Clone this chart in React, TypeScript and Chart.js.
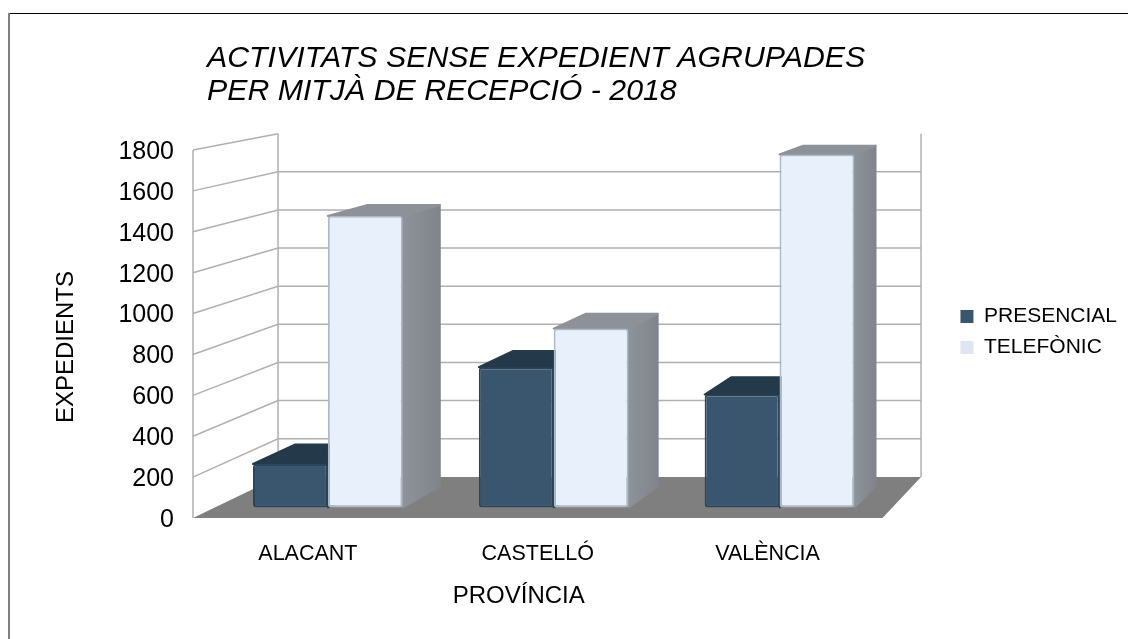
import React, { useEffect, useRef } from "react";
import { Chart, registerables } from "chart.js";

Chart.register(...registerables);

const categories = ["ALACANT", "CASTELLÓ", "VALÈNCIA"];
const presencial = [216, 698, 562];
const telefonic = [1451, 890, 1757];
const yTicks = { min: 0, max: 1800, step: 200 };

const FONT = "'Liberation Sans', Arial, sans-serif";
const VP = { x: 1455, y: -92 };
const S_BAR_FRONT = 0.9826;
const S_BAR_BACK = 0.948;
const S_WALL = 0.9326;

const proj = (x: number, y: number, s: number): [number, number] => [VP.x + s * (x - VP.x), VP.y + s * (y - VP.y)];

function poly(ctx: CanvasRenderingContext2D, pts: [number, number][]) {
  ctx.beginPath();
  pts.forEach((p, i) => (i ? ctx.lineTo(p[0], p[1]) : ctx.moveTo(p[0], p[1])));
  ctx.closePath();
}

const faces: Record<number, { top: string; side1: string; side2: string }> = {
  0: { top: "#24394a", side1: "#2b4357", side2: "#2b4357" },
  1: { top: "#8d9198", side1: "#8e9399", side2: "#80858c" },
};

const legendFill: Record<number, string> = { 0: "#3a566f", 1: "#dde6f1" };

const scene = {
  id: "scene",
  afterLayout(chart: any) {
    const t = chart.titleBlock;
    t.left = 207;
    t.right = 1100;
    const l = chart.legend;
    l.left += 68;
    l.right += 68;
    l.top += 12.5;
    l.bottom += 12.5;
  },
  beforeDraw(chart: any) {
    const { ctx, chartArea: a, scales } = chart;
    const y = scales.y;
    ctx.save();
    ctx.fillStyle = "#fff";
    ctx.fillRect(0, 0, chart.width, chart.height);
    ctx.strokeStyle = "#000";
    ctx.lineWidth = 1;
    ctx.beginPath();
    ctx.moveTo(8, 13.5);
    ctx.lineTo(chart.width, 13.5);
    ctx.stroke();
    ctx.strokeStyle = "#808080";
    ctx.lineWidth = 2;
    ctx.beginPath();
    ctx.moveTo(9, 13);
    ctx.lineTo(9, chart.height);
    ctx.stroke();

    // floor
    poly(ctx, [[a.left, a.bottom], [a.right, a.bottom], proj(a.right, a.bottom, S_WALL), proj(a.left, a.bottom, S_WALL)]);
    ctx.fillStyle = "#7f7f7f";
    ctx.fill();

    // walls and grid
    ctx.strokeStyle = "#b0b0b0";
    ctx.lineWidth = 1.5;
    const backL = (v: number) => proj(a.left, v, S_WALL);
    const backR = (v: number) => proj(a.right, v, S_WALL);
    y.ticks.forEach((tk: any) => {
      const py = y.getPixelForValue(tk.value);
      ctx.beginPath();
      if (tk.value > 0) {
        ctx.moveTo(a.left, py);
        ctx.lineTo(...backL(py));
      }
      if (tk.value > 0 && tk.value < yTicks.max) {
        ctx.lineTo(...backR(py));
      }
      ctx.stroke();
    });
    ctx.beginPath();
    ctx.moveTo(a.left, a.top);
    ctx.lineTo(a.left, a.bottom);
    ctx.moveTo(...backL(a.top));
    ctx.lineTo(...backL(a.bottom));
    ctx.moveTo(...backR(a.top));
    ctx.lineTo(...backR(a.bottom));
    ctx.stroke();
    ctx.restore();

    // move the axis titles to where the reference has them (tick labels keep their scale mapping)
    scales.y.bottom = a.bottom + 26;
    scales.x.left = a.left - 38;
  },
  beforeDatasetsDraw(chart: any) {
    const { ctx } = chart;
    ctx.save();
    ctx.filter = "blur(0.5px)";
    chart.getSortedVisibleDatasetMetas().slice().sort((p: any, q: any) => p.index - q.index).forEach((meta: any) => {
      const f = faces[meta.index];
      meta.data.forEach((bar: any) => {
        const { x, y, base, width } = bar.getProps(["x", "y", "base", "width"], true);
        const l = x - width / 2;
        const r = x + width / 2;
        const side: [number, number][] = [proj(r, y, S_BAR_FRONT), proj(r, y, S_BAR_BACK), proj(r, base, S_BAR_BACK), proj(r, base, S_BAR_FRONT)];
        const g = ctx.createLinearGradient(side[0][0], 0, side[1][0], 0);
        g.addColorStop(0, f.side1);
        g.addColorStop(1, f.side2);
        ctx.lineJoin = "round";
        ctx.lineWidth = 2;
        poly(ctx, side);
        ctx.fillStyle = g;
        ctx.strokeStyle = g;
        ctx.fill();
        ctx.stroke();
        poly(ctx, [proj(l, y, S_BAR_FRONT), proj(r, y, S_BAR_FRONT), proj(r, y, S_BAR_BACK), proj(l, y, S_BAR_BACK)]);
        ctx.fillStyle = f.top;
        ctx.strokeStyle = f.top;
        ctx.fill();
        ctx.stroke();
      });
    });
    ctx.restore();
    // bars themselves are drawn on the front plane of the bar row
    ctx.save();
    ctx.filter = "blur(0.5px)";
    ctx.translate(VP.x * (1 - S_BAR_FRONT), VP.y * (1 - S_BAR_FRONT));
    ctx.scale(S_BAR_FRONT, S_BAR_FRONT);
  },
  afterDatasetsDraw(chart: any) {
    chart.ctx.restore();
  },
};

export default function App() {
  const ref = useRef<HTMLCanvasElement>(null);
  useEffect(() => {
    const chart = new Chart(ref.current as HTMLCanvasElement, {
      type: "bar",
      plugins: [scene],
      data: {
        labels: categories,
        datasets: [
          { label: "PRESENCIAL", data: presencial, backgroundColor: "#3a566f", borderColor: "#2c4459", borderWidth: 2, borderRadius: 3, borderSkipped: false, categoryPercentage: 0.663, barPercentage: 1, clip: false },
          { label: "TELEFÒNIC", data: telefonic, backgroundColor: "#e8f0fb", borderColor: "#aeb9c8", borderWidth: 2, borderRadius: 3, borderSkipped: false, categoryPercentage: 0.663, barPercentage: 1, clip: false },
        ],
      } as any,
      options: {
        responsive: false,
        animation: false,
        layout: { padding: { left: 0, right: 69, top: 0, bottom: 0 } },
        plugins: {
          tooltip: { enabled: false },
          title: {
            display: true,
            align: "start",
            text: ["ACTIVITATS SENSE EXPEDIENT AGRUPADES", "PER MITJÀ DE RECEPCIÓ - 2018"],
            color: "#000",
            font: { family: FONT, size: 30.3, style: "italic", weight: "normal", lineHeight: 33 / 30.3 },
            padding: { top: 42.5, bottom: 41.5 },
          },
          legend: {
            display: true,
            position: "right",
            labels: {
              color: "#000",
              font: { family: FONT, size: 21 },
              boxWidth: 13,
              boxHeight: 13,
              padding: 10,
              generateLabels: (chart: any) =>
                Chart.defaults.plugins.legend.labels.generateLabels(chart).map((it: any) => ({
                  ...it,
                  fillStyle: legendFill[it.datasetIndex],
                  strokeStyle: legendFill[it.datasetIndex],
                  lineWidth: 0,
                })),
            },
          },
        },
        scales: {
          x: {
            grid: { display: false, tickLength: 0 },
            border: { display: false },
            afterFit: (s: any) => { s.height = 121; },
            ticks: { color: "#000", font: { family: FONT, size: 21.5 }, padding: 23, maxRotation: 0, autoSkip: false },
            title: { display: true, text: "PROVÍNCIA", color: "#000", font: { family: FONT, size: 24 }, padding: { top: 0, bottom: 28 } },
          },
          y: {
            min: yTicks.min,
            max: yTicks.max,
            grid: { display: false, tickLength: 0 },
            border: { display: false },
            afterFit: (s: any) => { s.width = 193; },
            ticks: { stepSize: yTicks.step, color: "#000", font: { family: FONT, size: 25 }, padding: 19, labelOffset: 2, callback: (v: any) => String(v) },
            title: { display: true, text: "EXPEDIENTS", color: "#000", font: { family: FONT, size: 24 }, padding: { top: 52, bottom: 0 } },
          },
        },
      },
    } as any);
    return () => chart.destroy();
  }, []);
  return <canvas ref={ref} width={1128} height={639} style={{ position: "fixed", left: 0, top: 0, display: "block" }} />;
}
